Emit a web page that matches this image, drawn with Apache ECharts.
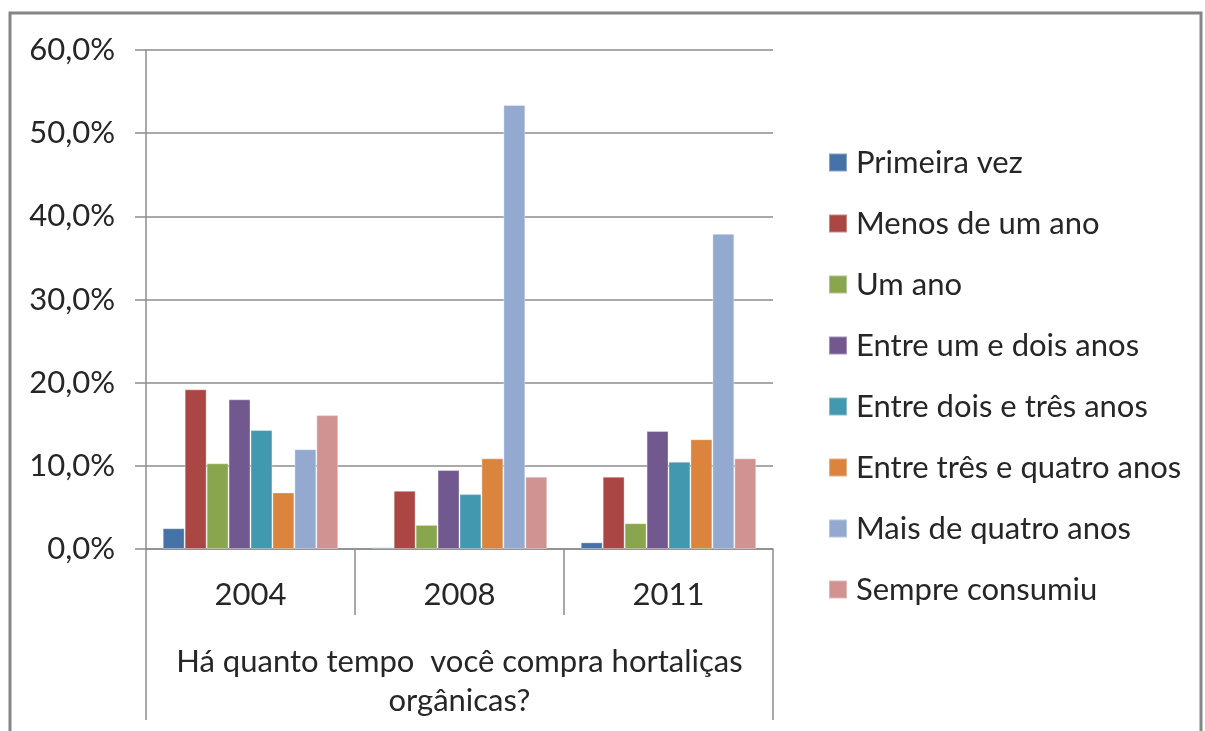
<!DOCTYPE html>
<html>
<head>
<meta charset="utf-8">
<script src="https://cdn.jsdelivr.net/npm/echarts@6/dist/echarts.min.js"></script>
<style>
  html, body { margin: 0; padding: 0; background: #fff; }
  #chart { width: 1205px; height: 731px; }
</style>
</head>
<body>
<div id="chart"></div>
<script>
// data (fractions)
const years = ['2004', '2008', '2011'];
const axisTitle = 'Há quanto tempo  você compra hortaliças\norgânicas?';
const seriesNames = [
  'Primeira vez', 'Menos de um ano', 'Um ano', 'Entre um e dois anos',
  'Entre dois e três anos', 'Entre três e quatro anos', 'Mais de quatro anos', 'Sempre consumiu'
];
const primeiraVez = [0.025, 0.002, 0.008];
const menosDeUmAno = [0.192, 0.070, 0.087];
const umAno = [0.103, 0.029, 0.031];
const entreUmEDois = [0.180, 0.095, 0.142];
const entreDoisETres = [0.143, 0.066, 0.105];
const entreTresEQuatro = [0.068, 0.109, 0.132];
const maisDeQuatro = [0.120, 0.534, 0.379];
const sempreConsumiu = [0.161, 0.087, 0.109];
const palette = ['#4572A7', '#AA4643', '#89A54E', '#71588F', '#4198AF', '#DB843D', '#93A9CF', '#D19392'];

const values = [primeiraVez, menosDeUmAno, umAno, entreUmEDois,
  entreDoisETres, entreTresEQuatro, maisDeQuatro, sempreConsumiu];

const font = 'Lato, "Open Sans", sans-serif';
const gray = '#8c8c8c';
const txt = '#262626';

let chart = echarts.init(document.getElementById('chart'), null, {renderer: 'canvas'});

chart.setOption({
  animation: false,
  color: palette,
  textStyle: {fontFamily: font},
  graphic: [{
    type: 'rect',
    shape: {x: 10, y: 13, width: 1191, height: 740},
    style: {fill: 'none', stroke: '#858585', lineWidth: 3},
    silent: true
  }],
  grid: {left: 146, right: 432, top: 50, bottom: 182},
  legend: {
    orient: 'vertical',
    left: 823,
    top: 142,
    itemWidth: 18,
    itemHeight: 18,
    itemGap: 30,
    icon: 'rect',
    textStyle: {fontFamily: font, fontSize: 31, color: txt, padding: [0, 0, 0, 4]},
    data: seriesNames
  },
  xAxis: [{
    type: 'category',
    data: years,
    axisLine: {show: true, lineStyle: {color: gray, width: 1.5}},
    axisTick: {show: true, length: 66, lineStyle: {color: gray, width: 1.5}},
    axisLabel: {fontSize: 31, color: txt, margin: 30, fontFamily: font}
  }, {
    type: 'category',
    data: [axisTitle],
    position: 'bottom',
    axisLine: {show: false},
    axisTick: {show: true, length: 171, lineStyle: {color: gray, width: 1.5}},
    axisLabel: {fontSize: 31, color: txt, margin: 93, lineHeight: 39, fontFamily: font}
  }],
  yAxis: {
    type: 'value',
    min: 0,
    max: 0.6,
    interval: 0.1,
    axisLine: {show: true, lineStyle: {color: gray, width: 1.5}},
    axisTick: {show: true, length: 11, lineStyle: {color: gray, width: 1.5}},
    splitLine: {lineStyle: {color: gray, width: 1.5}},
    axisLabel: {
      fontSize: 31, color: txt, margin: 31, fontFamily: font,
      formatter: v => (v * 100).toFixed(1).replace('.', ',') + '%'
    }
  },
  series: seriesNames.map((name, i) => ({
    name: name,
    type: 'bar',
    xAxisIndex: 0,
    data: values[i],
    barGap: '0%',
    barCategoryGap: '16%',
    itemStyle: {borderColor: 'rgba(255,255,255,0.35)', borderWidth: 1}
  }))
});
</script>
</body>
</html>
